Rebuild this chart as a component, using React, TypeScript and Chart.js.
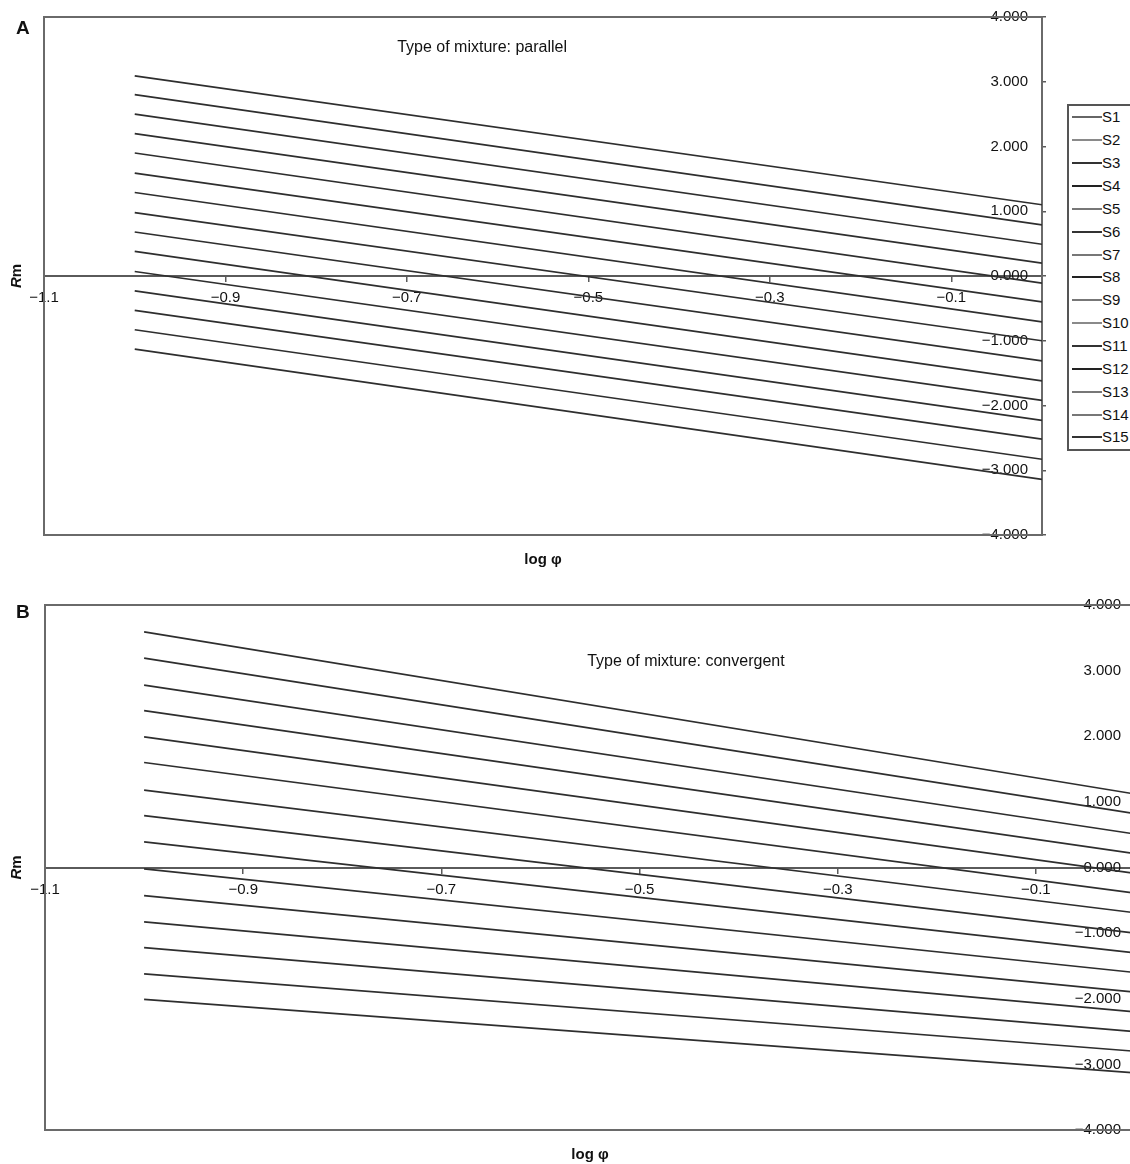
import React, { useEffect, useRef } from "react";
import { Chart, registerables } from "chart.js";

Chart.register(...registerables);

// ---------- data ----------
const seriesNames = ["S1", "S2", "S3", "S4", "S5", "S6", "S7", "S8", "S9", "S10", "S11", "S12", "S13", "S14", "S15"];
const xPoints = [-1.0, 0.0];

// panel A: parallel mixture (value at x = -1.0 and at x = 0)
const parallelStart = [3.09, 2.8, 2.5, 2.2, 1.9, 1.59, 1.29, 0.98, 0.68, 0.38, 0.07, -0.23, -0.53, -0.83, -1.13];
const parallelEnd = [1.1, 0.79, 0.49, 0.2, -0.11, -0.4, -0.71, -1.0, -1.31, -1.62, -1.92, -2.23, -2.52, -2.83, -3.14];

// panel B: convergent mixture
const convergentStart = [3.59, 3.19, 2.78, 2.39, 1.99, 1.6, 1.18, 0.79, 0.39, -0.02, -0.43, -0.83, -1.22, -1.62, -2.01];
const convergentEnd = [1.12, 0.82, 0.51, 0.21, -0.09, -0.39, -0.69, -1.0, -1.3, -1.6, -1.9, -2.2, -2.5, -2.8, -3.13];

const xTickValues = [-1.1, -0.9, -0.7, -0.5, -0.3, -0.1];
const xTickLabels = ["\u22121.1", "\u22120.9", "\u22120.7", "\u22120.5", "\u22120.3", "\u22120.1"];
const yTickValues = [4, 3, 2, 1, 0, -1, -2, -3, -4];
const yTickLabels = ["4.000", "3.000", "2.000", "1.000", "0.000", "\u22121.000", "\u22122.000", "\u22123.000", "\u22124.000"];

const legendColors = ["#666", "#8a8a8a", "#333", "#222", "#777", "#333", "#777", "#222", "#777", "#8a8a8a", "#333", "#222", "#777", "#777", "#333"];

const FONT = '"Liberation Sans", Arial, Helvetica, sans-serif';
const AXIS_COLOR = "#5a5a5a";
const LINE_COLOR = "#2e2e2e";

// ---------- plugin for frame and free text ----------
const decorPlugin = {
  id: "decor",
  beforeDraw(chart: any) {
    const { ctx, width, height } = chart;
    ctx.save();
    ctx.fillStyle = "#ffffff";
    ctx.fillRect(0, 0, width, height);
    ctx.restore();
  },
  beforeDatasetsDraw(chart: any) {
    const { ctx, chartArea: ca } = chart;
    ctx.save();
    ctx.strokeStyle = "#6a6a6a";
    ctx.lineWidth = 2;
    ctx.strokeRect(ca.left, ca.top, ca.right - ca.left, ca.bottom - ca.top);
    ctx.restore();
  },
  afterDraw(chart: any, _args: any, opts: any) {
    const { ctx, chartArea: ca } = chart;
    ctx.save();
    ctx.fillStyle = "#111";
    // title inside plot
    ctx.font = `16px ${FONT}`;
    ctx.textAlign = "center";
    ctx.textBaseline = "middle";
    ctx.fillText(opts.title, ca.left + (ca.right - ca.left) * opts.titleFrac, ca.top + opts.titleDy);
    // x axis title
    ctx.font = `bold 15px ${FONT}`;
    ctx.fillText("log \u03c6", (ca.left + ca.right) / 2, ca.bottom + 25);
    // y axis title "Rm", rotated
    ctx.translate(17, (ca.top + ca.bottom) / 2);
    ctx.rotate(-Math.PI / 2);
    ctx.textAlign = "left";
    ctx.font = `italic bold 15px ${FONT}`;
    const wR = ctx.measureText("R").width;
    ctx.font = `bold 15px ${FONT}`;
    const wm = ctx.measureText("m").width;
    const start = -(wR + wm) / 2;
    ctx.font = `italic bold 15px ${FONT}`;
    ctx.fillText("R", start, 0);
    ctx.font = `bold 15px ${FONT}`;
    ctx.fillText("m", start + wR, 0);
    ctx.restore();
    // panel letter
    ctx.save();
    ctx.fillStyle = "#111";
    ctx.font = `bold 19px ${FONT}`;
    ctx.textAlign = "left";
    ctx.textBaseline = "alphabetic";
    ctx.fillText(opts.letter, 16, opts.letterY);
    ctx.restore();
  },
};

function buildConfig(starts: number[], ends: number[], opts: any, padding: any): any {
  const datasets = seriesNames.map((name, i) => ({
    label: name,
    data: [
      { x: xPoints[0], y: starts[i] },
      { x: xPoints[1], y: ends[i] },
    ],
    borderColor: LINE_COLOR,
    borderWidth: 1.7,
    pointRadius: 0,
    fill: false,
    tension: 0,
  }));
  return {
    type: "line",
    data: { datasets },
    plugins: [decorPlugin],
    options: {
      responsive: false,
      animation: false,
      layout: { padding },
      plugins: {
        legend: { display: false },
        title: { display: false },
        tooltip: { enabled: false },
        decor: opts,
      },
      scales: {
        x: {
          type: "linear",
          min: -1.1,
          max: 0,
          position: { y: 0 },
          afterBuildTicks: (s: any) => {
            s.ticks = xTickValues.map((v) => ({ value: v }));
          },
          ticks: {
            autoSkip: false,
            maxRotation: 0,
            padding: 8,
            color: "#111",
            font: { size: 15, family: FONT },
            callback: (v: number) => {
              const i = xTickValues.findIndex((t) => Math.abs(t - v) < 1e-9);
              return i >= 0 ? xTickLabels[i] : "";
            },
          },
          grid: { drawOnChartArea: false, drawTicks: true, tickLength: 5, color: AXIS_COLOR, lineWidth: 1.5 },
          border: { display: true, color: AXIS_COLOR, width: 2 },
        },
        y: {
          type: "linear",
          min: -4,
          max: 4,
          position: "right",
          afterBuildTicks: (s: any) => {
            s.ticks = yTickValues.map((v) => ({ value: v }));
          },
          afterFit: (s: any) => {
            s.width = 0;
          },
          ticks: {
            mirror: true,
            padding: -14,
            color: "#111",
            font: { size: 15, family: FONT },
            callback: (v: number) => {
              const i = yTickValues.findIndex((t) => Math.abs(t - v) < 1e-9);
              return i >= 0 ? yTickLabels[i] : "";
            },
          },
          grid: { drawOnChartArea: false, drawTicks: true, tickLength: 4, color: AXIS_COLOR, lineWidth: 1.5 },
          border: { display: true, color: AXIS_COLOR, width: 2 },
        },
      },
    },
  };
}

function Panel(props: { starts: number[]; ends: number[]; opts: any; padding: any; width: number; height: number; top: number }) {
  const ref = useRef<HTMLCanvasElement>(null);
  useEffect(() => {
    if (!ref.current) return;
    const chart = new Chart(ref.current, buildConfig(props.starts, props.ends, props.opts, props.padding));
    return () => chart.destroy();
  }, []);
  return (
    <canvas
      ref={ref}
      width={props.width}
      height={props.height}
      style={{ position: "absolute", left: 0, top: props.top, width: props.width, height: props.height, display: "block" }}
    />
  );
}

function Legend() {
  return (
    <div
      style={{
        position: "absolute",
        left: 1067,
        top: 104,
        width: 90,
        border: "2px solid #555",
        background: "#fff",
        fontFamily: FONT,
        fontSize: 15,
        color: "#111",
      }}
    >
      {seriesNames.map((name, i) => (
        <div key={name} style={{ height: 22.86, display: "flex", alignItems: "center" }}>
          <span style={{ display: "inline-block", width: 30, height: 2, marginLeft: 3, background: legendColors[i] }} />
          <span style={{ lineHeight: "16px" }}>{name}</span>
        </div>
      ))}
    </div>
  );
}

export default function App() {
  return (
    <div style={{ position: "absolute", left: 0, top: 0, width: 1130, height: 1164, overflow: "hidden", background: "#fff" }}>
      <Panel
        starts={parallelStart}
        ends={parallelEnd}
        opts={{ title: "Type of mixture: parallel", titleFrac: 0.439, titleDy: 31, letter: "A", letterY: 34 }}
        padding={{ left: 44, top: 17, right: 88, bottom: 45 }}
        width={1130}
        height={580}
        top={0}
      />
      <Panel
        starts={convergentStart}
        ends={convergentEnd}
        opts={{ title: "Type of mixture: convergent", titleFrac: 0.588, titleDy: 57, letter: "B", letterY: 38 }}
        padding={{ left: 45, top: 25, right: 25, bottom: 34 }}
        width={1160}
        height={584}
        top={580}
      />
      <Legend />
    </div>
  );
}
